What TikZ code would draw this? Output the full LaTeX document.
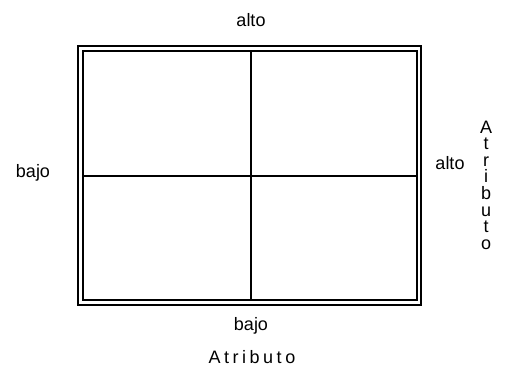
\documentclass[tikz,border=0pt]{standalone}
\usepackage{fontspec}
\setmainfont{Liberation Sans}
\begin{document}
\begin{tikzpicture}[x=1pt,y=-1pt,
  lbl/.style={inner sep=0pt,font=\fontsize{18}{20}\selectfont},
  frame/.style={line width=1.8pt},
  divider/.style={line width=1.6pt}]
\useasboundingbox (0,0) rectangle (522,373);
\coordinate (o1) at (78,46);
\coordinate (o2) at (421,305);
\coordinate (i1) at (83,51);
\coordinate (i2) at (417,300);
\draw[frame] (o1) rectangle (o2);
\draw[frame] (i1) rectangle (i2);
\coordinate (vt) at (251,51);
\coordinate (vb) at (251,300);
\coordinate (hl) at (83,176);
\coordinate (hr) at (417,176);
\draw[divider] (vt) -- (vb);
\draw[divider] (hl) -- (hr);
\node[lbl] (top) at (251,20) {alto};
\node[lbl] (left) at (33,173) {bajo};
\node[lbl] (right) at (450,163) {alto};
\node[lbl] (bottom) at (251,326) {bajo};
\node[lbl] (xaxis) at (252,357) {A\hspace{3.5pt}t\hspace{3.5pt}r\hspace{3.5pt}i\hspace{3.5pt}b\hspace{3.5pt}u\hspace{3.5pt}t\hspace{3.5pt}o};
\node[lbl,align=center,font=\fontsize{18}{16.6}\selectfont] (yaxis) at (486,185) {A\\t\\r\\i\\b\\u\\t\\o};
\end{tikzpicture}
\end{document}
